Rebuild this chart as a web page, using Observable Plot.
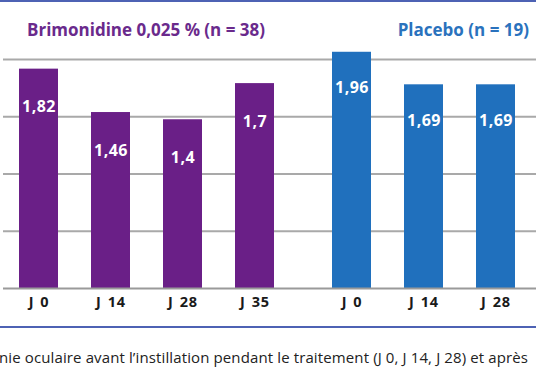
<!DOCTYPE html>
<html>
<head>
<meta charset="utf-8">
<script src="https://cdn.jsdelivr.net/npm/d3@7"></script>
<script src="https://cdn.jsdelivr.net/npm/@observablehq/plot@0.6"></script>
<style>
  html, body { margin: 0; padding: 0; background: #fff; overflow: hidden; }
  #wrap { position: relative; width: 536px; height: 386px; overflow: hidden; font-family: "Open Sans", "DejaVu Sans", sans-serif; }
  .hline { position: absolute; left: 0; width: 536px; background: #4d62b4; }
  .title { position: absolute; top: 19px; font-weight: 700; font-size: 17px; white-space: nowrap; line-height: 22px; }
  #chart { position: absolute; left: 0; top: 0; }
  #caption { position: absolute; left: -1px; top: 347px; font-size: 15px; letter-spacing: 0.12px; color: #222; white-space: nowrap; line-height: 20px; }
</style>
</head>
<body>
<div id="wrap">
  <div class="hline" style="top:0;height:2px"></div>
  <div id="chart"></div>
  <div class="title" id="t1" style="left:27px;color:#6a2a8c"></div>
  <div class="title" id="t2" style="right:7px;color:#2a72bd"></div>
  <div class="hline" style="top:326px;height:2px"></div>
  <div id="caption"></div>
</div>
<script>
const groupTitles = ["Brimonidine 0,025 % (n = 38)", "Placebo (n = 19)"];
const daysBrim = ["J 0", "J 14", "J 28", "J 35"];
const valuesBrim = [1.82, 1.46, 1.4, 1.7];
const daysPlac = ["J 0", "J 14", "J 28"];
const valuesPlac = [1.96, 1.69, 1.69];
const gridValues = [0.475, 0.95, 1.425, 1.9];
const captionText = "nie oculaire avant l’instillation pendant le traitement (J 0, J 14, J 28) et après";

const purple = "#6a1f87";
const blue = "#2070bd";

const brim = daysBrim.map((d, i) => ({key: "B|" + d, day: d, value: valuesBrim[i]}));
const plac = daysPlac.map((d, i) => ({key: "P|" + d, day: d, value: valuesPlac[i]}));
const fmt = v => String(v).replace(".", ",");

const labelStyle = {fill: "white", fontWeight: 700, fontSize: 16, fontFamily: "Open Sans, sans-serif", className: "vlabel"};
const axisStyle = {fill: "#1a1a1a", fontWeight: 700, fontSize: 14.5, fontFamily: "Open Sans, sans-serif", className: "xlabel"};
const shift = 25;

const chart = Plot.plot({
  width: 536,
  height: 320,
  marginLeft: 3,
  marginRight: 0,
  marginTop: 0,
  marginBottom: 0,
  x: {domain: [...brim, ...plac].map(d => d.key), range: [16, 494], paddingInner: 0.452, paddingOuter: 0, axis: null},
  y: {domain: [0, 1.9], range: [288, 59], axis: null},
  marks: [
    Plot.ruleY(gridValues, {stroke: "#a9a9a9", strokeWidth: 2}),
    Plot.barY(brim, {x: "key", y: "value", fill: purple}),
    Plot.barY(plac, {x: "key", y: "value", fill: blue, dx: shift}),
    Plot.text(brim, {x: "key", y: "value", text: d => fmt(d.value), dy: 38, ...labelStyle}),
    Plot.text(plac, {x: "key", y: "value", text: d => fmt(d.value), dy: 36, dx: shift, ...labelStyle}),
    Plot.ruleY([0], {stroke: "#9a9a9a", strokeWidth: 2}),
    Plot.text(brim, {x: "key", y: 0, text: "day", dy: 14, ...axisStyle}),
    Plot.text(plac, {x: "key", y: 0, text: "day", dy: 14, dx: shift, ...axisStyle})
  ]
});
chart.querySelectorAll(".vlabel text").forEach(t => t.style.letterSpacing = "0.5px");
chart.querySelectorAll(".xlabel text").forEach(t => { t.style.letterSpacing = "0.8px"; t.style.wordSpacing = "1.5px"; });
document.getElementById("chart").appendChild(chart);
document.getElementById("t1").textContent = groupTitles[0];
document.getElementById("t2").textContent = groupTitles[1];
document.getElementById("caption").textContent = captionText;
</script>
</body>
</html>
